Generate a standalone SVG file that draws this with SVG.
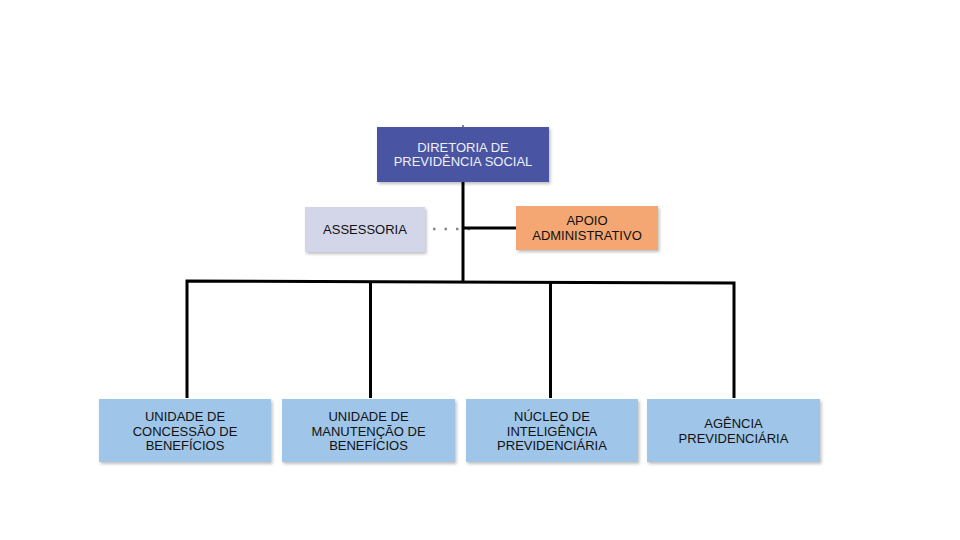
<svg xmlns="http://www.w3.org/2000/svg" width="960" height="540" viewBox="0 0 960 540">
<defs>
<filter id="sh" x="-10%" y="-10%" width="125%" height="130%">
<feDropShadow dx="1.5" dy="2" stdDeviation="1.5" flood-color="#000" flood-opacity="0.25"/>
</filter>
<style>
text{font-family:"Liberation Sans",Arial,sans-serif;font-size:13px;text-anchor:middle;fill:#111}
.box{filter:url(#sh)}
.con{stroke:#000;stroke-width:3;fill:none}
.w{fill:#eef0f8}
</style>
</defs>
<rect width="960" height="540" fill="#fff"/>
<g id="connectors">
<line x1="463" y1="125" x2="463" y2="128" stroke="#888" stroke-width="2"/>
<line class="con" x1="463" y1="182" x2="463" y2="282"/>
<line x1="433" y1="229" x2="470" y2="229" stroke="#888" stroke-width="2.5" stroke-dasharray="2.5 9"/>
<line class="con" x1="463" y1="228" x2="516" y2="228"/>
<polyline class="con" points="187,398 187,281 734,283 734,398"/>
<line class="con" x1="370.5" y1="282" x2="370.5" y2="398"/>
<line class="con" x1="550.5" y1="282" x2="550.5" y2="398"/>
</g>
<g id="diretoria">
<rect class="box" x="377" y="127" width="172" height="55" fill="#4a54a3"/>
<text class="w" x="463" y="152">DIRETORIA DE</text>
<text class="w" x="463" y="166">PREVIDÊNCIA SOCIAL</text>
</g>
<g id="assessoria">
<rect class="box" x="305" y="207" width="120" height="45" fill="#d3d5e9"/>
<text x="365" y="234">ASSESSORIA</text>
</g>
<g id="apoio">
<rect class="box" x="516" y="206" width="142" height="44" fill="#f4a673"/>
<text x="587" y="225">APOIO</text>
<text x="587" y="240">ADMINISTRATIVO</text>
</g>
<g id="concessao">
<rect class="box" x="99" y="399" width="172" height="63" fill="#9fc5e8"/>
<text x="185" y="421">UNIDADE DE</text>
<text x="185" y="436">CONCESSÃO DE</text>
<text x="185" y="450">BENEFÍCIOS</text>
</g>
<g id="manutencao">
<rect class="box" x="282" y="399" width="173" height="63" fill="#9fc5e8"/>
<text x="368.5" y="421">UNIDADE DE</text>
<text x="368.5" y="436">MANUTENÇÃO DE</text>
<text x="368.5" y="450">BENEFÍCIOS</text>
</g>
<g id="nucleo">
<rect class="box" x="466" y="399" width="172" height="63" fill="#9fc5e8"/>
<text x="552" y="421">NÚCLEO DE</text>
<text x="552" y="436">INTELIGÊNCIA</text>
<text x="552" y="450">PREVIDENCIÁRIA</text>
</g>
<g id="agencia">
<rect class="box" x="647" y="399" width="173" height="63" fill="#9fc5e8"/>
<text x="733.5" y="428">AGÊNCIA</text>
<text x="733.5" y="443">PREVIDENCIÁRIA</text>
</g>
</svg>
